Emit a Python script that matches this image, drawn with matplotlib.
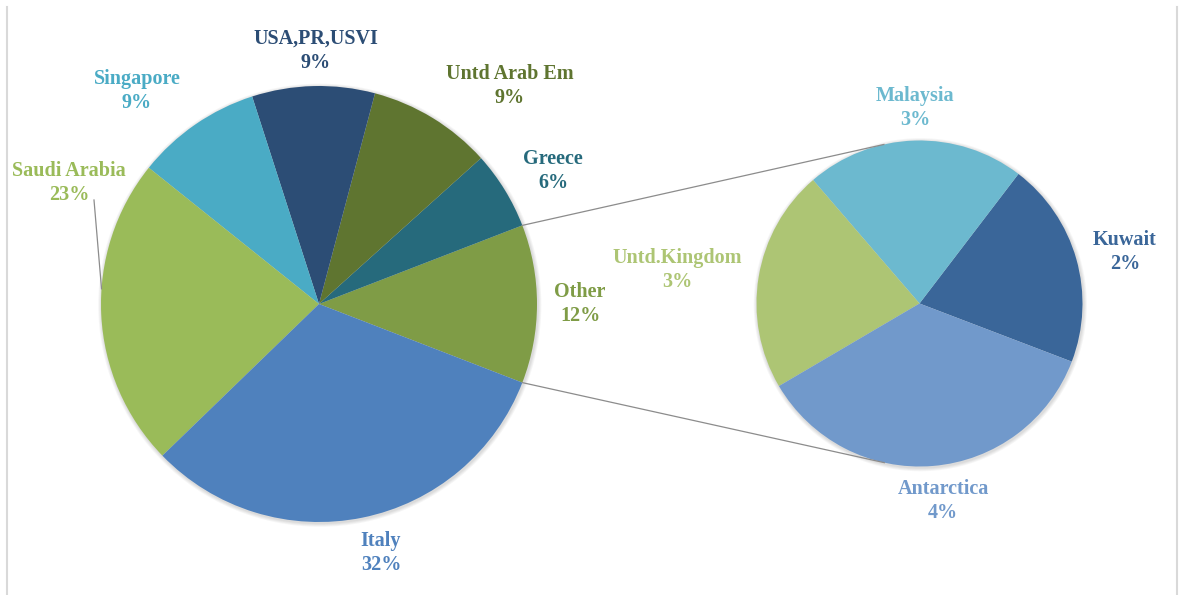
import numpy as np
import matplotlib.pyplot as plt
from matplotlib.patches import Circle

# main pie, counter-clockwise starting from the "Other" slice
main_names = ['Other', 'Greece', 'Untd Arab Em', 'USA,PR,USVI', 'Singapore', 'Saudi Arabia', 'Italy']
main_values = [11.75, 5.8, 9.2, 9.1, 9.3, 23.0, 31.9]
main_colors = ['#7f9c46', '#266a7c', '#5f7530', '#2c4d75', '#4aabc5', '#9abb59', '#4f81bd']

# breakdown of "Other"
sub_names = ['Kuwait', 'Malaysia', 'Untd.Kingdom', 'Antarctica']
sub_values = [2.4, 2.55, 2.6, 4.2]
sub_colors = ['#3a6699', '#6cb9cf', '#adc574', '#7199cb']

W, H = 1180, 595
main_c, main_r = (319.0, 291.0), 218.0
sub_c, sub_r = (919.5, 291.5), 163.0
sub_start = -20.9

# label anchors (pixel coords, y up)
label_pos = {
    'Other': (580, 291), 'Greece': (553, 424), 'Untd Arab Em': (510, 509),
    'USA,PR,USVI': (316, 544), 'Singapore': (137, 504), 'Saudi Arabia': (69, 412),
    'Italy': (381, 42), 'Kuwait': (1125, 343), 'Malaysia': (915, 487),
    'Untd.Kingdom': (677, 325), 'Antarctica': (943, 94),
}

plt.rcParams['font.family'] = ['Liberation Serif', 'DejaVu Serif']

fig = plt.figure(figsize=(W / 100, H / 100), dpi=100)
ax = fig.add_axes([0, 0, 1, 1])
ax.set_xlim(0, W)
ax.set_ylim(0, H)
ax.set_aspect('equal')
ax.axis('off')

total = sum(main_values)


def soft_shadow(center, r):
    for k in range(1, 5):
        ax.add_patch(Circle((center[0] + 0.8, center[1] - 1.2), r + k * 0.9,
                            color='#000000', alpha=0.035, lw=0, zorder=0))


soft_shadow(main_c, main_r)
soft_shadow(sub_c, sub_r)

other_share = main_values[0] / total
main_wedges, _ = ax.pie(main_values, colors=main_colors, center=main_c, radius=main_r,
                        startangle=-other_share * 180, counterclock=True,
                        wedgeprops=dict(linewidth=0), frame=True)
sub_wedges, _ = ax.pie(sub_values, colors=sub_colors, center=sub_c, radius=sub_r,
                       startangle=sub_start, counterclock=True,
                       wedgeprops=dict(linewidth=0), frame=True)
ax.set_xlim(0, W)
ax.set_ylim(0, H)
ax.axis('off')

txt = dict(ha='center', va='center', fontsize=14.5, fontweight='bold', linespacing=1.32)
for name, v, col in zip(main_names, main_values, main_colors):
    x, y = label_pos[name]
    ax.text(x, y, f'{name}\n{v / total * 100:.0f}%', color=col, **txt)
for name, v, col in zip(sub_names, sub_values, sub_colors):
    x, y = label_pos[name]
    ax.text(x, y, f'{name}\n{v / total * 100:.0f}%', color=col, **txt)

# leader line for Saudi Arabia
a = np.deg2rad(176)
ax.plot([94, main_c[0] + main_r * np.cos(a)], [395, main_c[1] + main_r * np.sin(a)],
        color='#8c8c8c', lw=0.9, zorder=1)

# connector lines: Other slice edges -> tangent points on the secondary pie
w0 = main_wedges[0]
cx, cy = sub_c
for theta, side in ((w0.theta2, 1), (w0.theta1, -1)):
    t = np.deg2rad(theta)
    px, py = main_c[0] + main_r * np.cos(t), main_c[1] + main_r * np.sin(t)
    dx, dy = cx - px, cy - py
    d = np.hypot(dx, dy)
    base = np.arctan2(dy, dx)
    off = np.arcsin(sub_r / d)
    ang = base + side * off
    L = np.sqrt(d ** 2 - sub_r ** 2)
    ax.plot([px, px + L * np.cos(ang)], [py, py + L * np.sin(ang)],
            color='#8c8c8c', lw=0.9, zorder=1)

# chart area edges
ax.plot([6.5, 6.5], [0, H - 7], color='#d9d9d9', lw=1.5)
ax.plot([1176.5, 1176.5], [0, H - 7], color='#d9d9d9', lw=1.5)

fig.savefig('out.png', dpi=100, facecolor='white')
